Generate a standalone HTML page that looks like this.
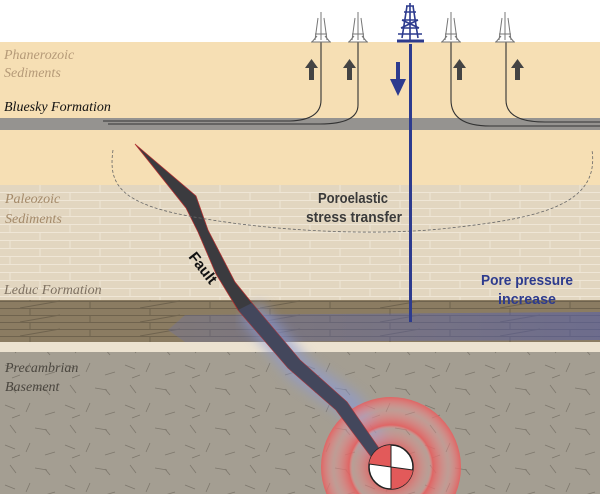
<!DOCTYPE html>
<html><head><style>
html,body{margin:0;padding:0;width:600px;height:494px;overflow:hidden;background:#fff}
svg{display:block}
.lab{font-family:"Liberation Serif",serif;font-style:italic;font-size:14px}
.bold{font-family:"Liberation Sans",sans-serif;font-weight:bold;font-size:14px}
</style></head><body>
<svg width="600" height="494" xmlns="http://www.w3.org/2000/svg">
<defs>
<pattern id="brick" width="60" height="16" patternUnits="userSpaceOnUse">
<rect width="60" height="16" fill="#e2d6c0"/>
<path d="M0 0.5H60M0 8.5H60M10 0V8M40 8V16" stroke="#efe6d6" stroke-width="1"/>
</pattern>
<pattern id="plank" width="120" height="14" patternUnits="userSpaceOnUse">
<rect width="120" height="14" fill="#8b7c62"/>
<path d="M0 0.5H120M0 7.5H120M30 0V7M90 7V14M60 7L20 14" stroke="#6f634e" stroke-width="1"/>
</pattern>
<pattern id="rock" width="60" height="40" patternUnits="userSpaceOnUse">
<rect width="60" height="40" fill="#a49e92"/>
<path d="M5 5l10 4M30 3l-4 9M45 15l10-3M10 25l6 8M35 28l12 2M50 35l-5-6M20 15l-8 3" stroke="#7d776c" stroke-width="0.8"/>
</pattern>
<radialGradient id="ring" cx="50%" cy="50%" r="50%">
<stop offset="0" stop-color="#e65f5f" stop-opacity="0.9"/>
<stop offset="0.3" stop-color="#e65f5f" stop-opacity="0.8"/>
<stop offset="0.55" stop-color="#f0a0a0" stop-opacity="0.25"/>
<stop offset="0.6" stop-color="#e65f5f" stop-opacity="0.9"/>
<stop offset="0.82" stop-color="#f09a9a" stop-opacity="0.35"/>
<stop offset="1" stop-color="#e65f5f" stop-opacity="0.9"/>
</radialGradient>
<linearGradient id="pp" x1="0" x2="1">
<stop offset="0" stop-color="#6670b0" stop-opacity="0.3"/>
<stop offset="1" stop-color="#5560b0" stop-opacity="0.55"/>
</linearGradient>
<filter id="blur"><feGaussianBlur stdDeviation="6"/></filter>
</defs>
<rect y="42" width="600" height="143" fill="#f6dfb4"/>
<rect y="118" width="600" height="12" fill="#959390"/>
<rect y="185" width="600" height="115" fill="url(#brick)"/>
<rect y="300" width="600" height="42" fill="url(#plank)"/>
<rect y="342" width="600" height="10" fill="#ece2d0"/>
<rect y="352" width="600" height="142" fill="url(#rock)"/>
<polygon points="168,330 185,315 600,312 600,340 185,342" fill="url(#pp)"/>
<path d="M250 310 L300 370 L350 405 L392 470" stroke="#8a9ad8" stroke-width="26" fill="none" opacity="0.6" filter="url(#blur)"/>
<circle cx="391" cy="467" r="70" fill="url(#ring)"/>
<!-- fault -->
<path d="M135 144 L196 196 L208 230 L235 282 L252 303 L300 360 L347 402 L394 470 L384 474 L336 410 L288 368 L238 310 L216 274 L198 232 L186 208 Z" fill="#3b3b3f" stroke="#b03030" stroke-width="0.8"/>
<path d="M252 303 L300 360 L347 402 L394 470 L384 474 L336 410 L288 368 L238 310Z" fill="#4a5070" opacity="0.6"/>
<g transform="translate(391,467)">
<circle r="22" fill="#fff" stroke="#222" stroke-width="1.5"/>
<path d="M0 0L-22 -3A22 22 0 0 1 0 -22Z" fill="#e25a5a"/>
<path d="M0 0L22 3A22 22 0 0 1 0 22Z" fill="#e25a5a"/>
<path d="M0 0L-22 -3M0 0L0 -22M0 0L22 3M0 0L0 22" stroke="#222" stroke-width="1"/>
</g>
<path d="M113 150 C108 185 120 205 200 218 C280 232 380 236 450 228 C540 218 600 205 592 150" stroke="#666" stroke-dasharray="3,2" fill="none" stroke-width="0.8"/>
<g stroke="#333" stroke-width="1.1" fill="none">
<path d="M321 42 V100 Q321 120 290 121 L103 121"/>
<path d="M358 42 V105 Q358 124 320 124 L108 124"/>
<path d="M451 42 V100 Q451 126 490 126 L600 126"/>
<path d="M506 42 V100 Q506 122 545 122 L600 122"/>
</g>
<g fill="#444">
<path d="M309 80h5v-12h4l-6.5-9-6.5 9h4z"/>
<path d="M347 80h5v-12h4l-6.5-9-6.5 9h4z"/>
<path d="M457 80h5v-12h4l-6.5-9-6.5 9h4z"/>
<path d="M515 80h5v-12h4l-6.5-9-6.5 9h4z"/>
</g>
<rect x="409" y="44" width="3" height="278" fill="#2d3b8e"/>
<path d="M396 62h4v17h6l-8 17-8-17h6z" fill="#2d3b8e"/>
<g stroke="#777" stroke-width="1" fill="none">
<g transform="translate(321,0)"><path d="M0 12V40M-3 18L-6 40M3 18L6 40M-6 34H6M-9 42L-4 36M9 42L4 36M-10 42H10"/></g>
<g transform="translate(358,0)"><path d="M0 12V40M-3 18L-6 40M3 18L6 40M-6 34H6M-9 42L-4 36M9 42L4 36M-10 42H10"/></g>
<g transform="translate(451,0)"><path d="M0 12V40M-3 18L-6 40M3 18L6 40M-6 34H6M-9 42L-4 36M9 42L4 36M-10 42H10"/></g>
<g transform="translate(505,0)"><path d="M0 12V40M-3 18L-6 40M3 18L6 40M-6 34H6M-9 42L-4 36M9 42L4 36M-10 42H10"/></g>
</g>
<g stroke="#2d3b8e" stroke-width="1.6" fill="none">
<path d="M410 3V40M406 6H414M404 12H416M402 20H418M401 28H419M407 6L402 38M413 6L418 38M402 20L419 28M418 20L401 28M398 34H422"/>
<path d="M397 41H424" stroke-width="3"/>
</g>
<text class="lab" x="4" y="59" fill="#b59a78">Phanerozoic</text>
<text class="lab" x="4" y="77" fill="#b59a78">Sediments</text>
<text class="lab" x="4" y="111" fill="#111">Bluesky Formation</text>
<text class="lab" x="5" y="203" fill="#a48a6a">Paleozoic</text>
<text class="lab" x="5" y="223" fill="#a48a6a">Sediments</text>
<text class="lab" x="4" y="294" fill="#7d7060">Leduc Formation</text>
<text class="lab" x="5" y="372" fill="#4a463f">Precambrian</text>
<text class="lab" x="5" y="391" fill="#4a463f">Basement</text>
<text class="bold" x="353" y="203" text-anchor="middle" fill="#3a3a3a" textLength="70" lengthAdjust="spacingAndGlyphs" style="font-size:15px">Poroelastic</text>
<text class="bold" x="354" y="222" text-anchor="middle" fill="#3a3a3a" textLength="96" lengthAdjust="spacingAndGlyphs" style="font-size:15px">stress transfer</text>
<text class="bold" x="527" y="285" text-anchor="middle" fill="#2d3b8e" textLength="92" lengthAdjust="spacingAndGlyphs" style="font-size:15px">Pore pressure</text>
<text class="bold" x="527" y="304" text-anchor="middle" fill="#2d3b8e" textLength="58" lengthAdjust="spacingAndGlyphs" style="font-size:15px">increase</text>
<text class="bold" x="188" y="257" fill="#111" transform="rotate(52 188 257)" style="font-size:15px">Fault</text>
</svg>
</body></html>
